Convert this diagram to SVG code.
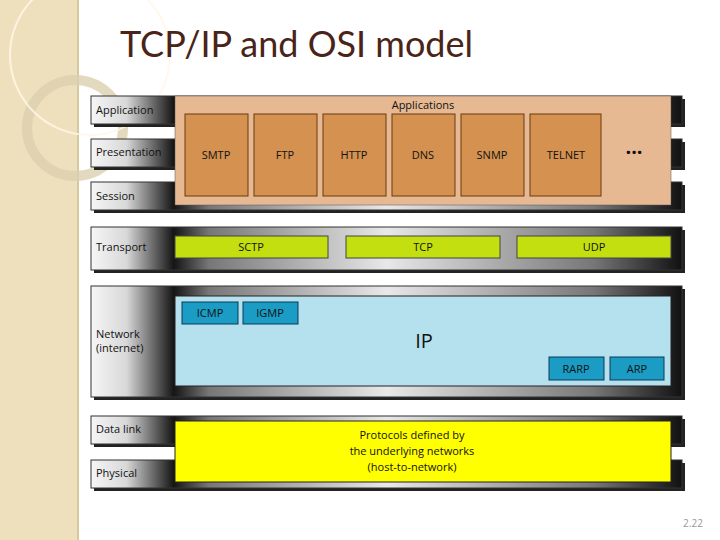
<svg xmlns="http://www.w3.org/2000/svg" width="720" height="540" viewBox="0 0 720 540">
<defs>
<linearGradient id="bar" x1="0" y1="0" x2="1" y2="0">
<stop offset="0" stop-color="#f6f6f6"/><stop offset="0.06" stop-color="#d8d8d8"/><stop offset="0.14" stop-color="#151515"/><stop offset="0.2" stop-color="#777"/><stop offset="0.5" stop-color="#e8e8e8"/><stop offset="0.85" stop-color="#777"/><stop offset="1" stop-color="#111"/>
</linearGradient>
<style>
.bar{fill:url(#bar);stroke:#333;stroke-width:1}
.sh{fill:#222}
.lbl{font-family:"Open Sans","DejaVu Sans",sans-serif;font-size:11px;fill:#111}
.t{font-family:"Open Sans","DejaVu Sans",sans-serif;font-size:11px;fill:#111;text-anchor:middle}
.app{fill:#d4914f;stroke:#6a3a10;stroke-width:1}
.grn{fill:#c3df10;stroke:#444;stroke-width:1}
.blu{fill:#1a9cc4;stroke:#0b3a55;stroke-width:1}
</style>
</defs>
<rect width="720" height="540" fill="#fff"/>
<g id="sidebar">
<rect x="0" y="0" width="78" height="540" fill="#efe0bd"/>
<line x1="78" y1="0" x2="78" y2="540" stroke="#d8c8a0" stroke-width="2"/>
<circle cx="75" cy="128" r="48" fill="none" stroke="#dccfae" stroke-width="10" opacity="0.8"/>
<circle cx="90" cy="55" r="80" fill="none" stroke="#fff8e8" stroke-width="2" opacity="0.8"/>
</g>
<text x="120" y="57" font-family="Lato,'Open Sans',sans-serif" font-size="36" fill="#4a2418">TCP/IP and OSI model</text>
<g id="layers">
<rect class="sh" x="94" y="99" width="591" height="28"/><rect class="bar" x="91" y="96" width="591" height="28"/>
<rect class="sh" x="94" y="142" width="591" height="28"/><rect class="bar" x="91" y="139" width="591" height="28"/>
<rect class="sh" x="94" y="185" width="591" height="28"/><rect class="bar" x="91" y="182" width="591" height="28"/>
<rect class="sh" x="94" y="230" width="591" height="43"/><rect class="bar" x="91" y="227" width="591" height="43"/>
<rect class="sh" x="94" y="289" width="591" height="111"/><rect class="bar" x="91" y="286" width="591" height="111"/>
<rect class="sh" x="94" y="419" width="591" height="28"/><rect class="bar" x="91" y="416" width="591" height="28"/>
<rect class="sh" x="94" y="463" width="591" height="28"/><rect class="bar" x="91" y="460" width="591" height="28"/>
<text class="lbl" x="96" y="114">Application</text>
<text class="lbl" x="96" y="156">Presentation</text>
<text class="lbl" x="96" y="200">Session</text>
<text class="lbl" x="96" y="251">Transport</text>
<text class="lbl" x="96" y="338">Network</text>
<text class="lbl" x="96" y="352">(internet)</text>
<text class="lbl" x="96" y="433">Data link</text>
<text class="lbl" x="96" y="477">Physical</text>
</g>
<g id="applications">
<rect x="175" y="96" width="496" height="109" fill="#e7b993" stroke="#555" stroke-width="0.5"/>
<text class="t" x="423" y="109">Applications</text>
<rect class="app" x="185" y="114" width="63" height="82"/><text class="t" x="216" y="159">SMTP</text>
<rect class="app" x="254" y="114" width="63" height="82"/><text class="t" x="285" y="159">FTP</text>
<rect class="app" x="323" y="114" width="63" height="82"/><text class="t" x="354" y="159">HTTP</text>
<rect class="app" x="392" y="114" width="63" height="82"/><text class="t" x="423" y="159">DNS</text>
<rect class="app" x="461" y="114" width="63" height="82"/><text class="t" x="492" y="159">SNMP</text>
<rect class="app" x="530" y="114" width="71" height="82"/><text class="t" x="566" y="159">TELNET</text>
<text class="t" x="634" y="159" style="font-size:20px;font-weight:bold">···</text>
</g>
<g id="transport">
<rect class="grn" x="175" y="236" width="153" height="22"/><text class="t" x="251" y="251">SCTP</text>
<rect class="grn" x="346" y="236" width="154" height="22"/><text class="t" x="423" y="251">TCP</text>
<rect class="grn" x="517" y="236" width="154" height="22"/><text class="t" x="594" y="251">UDP</text>
</g>
<g id="network">
<rect x="175" y="296" width="496" height="90" fill="#b5e0ee" stroke="#222" stroke-width="1"/>
<rect class="blu" x="182" y="302" width="56" height="22"/><text class="t" x="210" y="317">ICMP</text>
<rect class="blu" x="243" y="302" width="55" height="22"/><text class="t" x="270" y="317">IGMP</text>
<text class="t" x="424" y="348" style="font-size:20px">IP</text>
<rect class="blu" x="549" y="357" width="55" height="23"/><text class="t" x="576" y="373">RARP</text>
<rect class="blu" x="610" y="357" width="54" height="23"/><text class="t" x="637" y="373">ARP</text>
</g>
<g id="link">
<rect x="175" y="421" width="496" height="61" fill="#ffff00" stroke="#222" stroke-width="1"/>
<text class="t" x="412" y="439">Protocols defined by</text>
<text class="t" x="412" y="455">the underlying networks</text>
<text class="t" x="412" y="471">(host-to-network)</text>
</g>
<text x="693" y="527" font-family="'Open Sans',sans-serif" font-size="10" fill="#999" text-anchor="middle">2.22</text>
</svg>
